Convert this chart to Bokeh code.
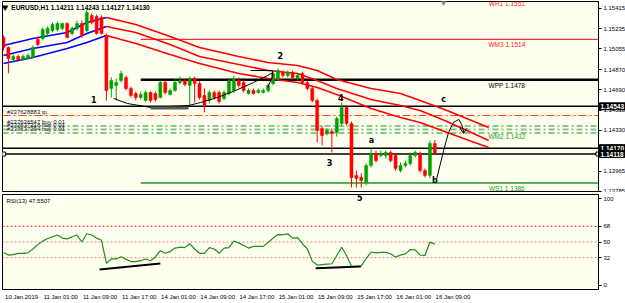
from bokeh.plotting import figure
from bokeh.models import ColumnDataSource, Range1d, FixedTicker, Label, PrintfTickFormatter
from bokeh.layouts import column
from bokeh.embed import file_html
from bokeh.resources import INLINE
from bokeh.core.properties import value

FONT = "Liberation Sans"
BG = "#FFFFF0"

# ---------------- data ----------------
bar_idx = list(range(89))
opens = [1.15156,1.15067,1.14960,1.14987,1.14960,1.14969,1.14978,1.15139,1.15147,1.15192,
         1.15219,1.15228,1.15237,1.15281,1.15192,1.15237,1.15281,1.15219,1.15352,1.15343,
         1.15335,1.15174,1.14702,1.14729,1.14773,1.14800,1.14702,1.14657,1.14622,1.14595,
         1.14666,1.14657,1.14622,1.14755,1.14648,1.14684,1.14755,1.14773,1.14729,1.14791,
         1.14746,1.14640,1.14595,1.14666,1.14666,1.14613,1.14657,1.14684,1.14773,1.14755,
         1.14657,1.14684,1.14666,1.14666,1.14684,1.14746,1.14791,1.14844,1.14818,1.14844,
         1.14791,1.14836,1.14755,1.14702,1.14595,1.14346,1.14301,1.14319,1.14310,1.14390,
         1.14533,1.14390,1.13927,1.13909,1.13864,1.14016,1.14123,1.14105,1.14105,1.14132,
         1.14105,1.13971,1.14016,1.14034,1.14105,1.14123,1.13971,1.13927,1.14211]
highs = [1.15174,1.15076,1.15005,1.15005,1.15005,1.15014,1.15085,1.15165,1.15245,1.15254,
         1.15290,1.15299,1.15290,1.15290,1.15254,1.15308,1.15308,1.15406,1.15370,1.15361,
         1.15352,1.15192,1.14800,1.14791,1.14862,1.14818,1.14720,1.14675,1.14675,1.14684,
         1.14675,1.14675,1.14773,1.14773,1.14702,1.14791,1.14809,1.14791,1.14809,1.14809,
         1.14764,1.14702,1.14684,1.14684,1.14684,1.14684,1.14791,1.14818,1.14800,1.14773,
         1.14702,1.14702,1.14702,1.14702,1.14746,1.14853,1.14880,1.14862,1.14862,1.14862,
         1.14836,1.14853,1.14773,1.14720,1.14613,1.14372,1.14346,1.14346,1.14452,1.14577,
         1.14550,1.14408,1.13971,1.13945,1.14034,1.14167,1.14149,1.14149,1.14149,1.14149,
         1.14123,1.14043,1.14060,1.14132,1.14149,1.14141,1.13989,1.14239,1.14243]
lows = [1.15040,1.14836,1.14934,1.14942,1.14951,1.14960,1.14969,1.15076,1.15130,1.15174,
        1.15201,1.15210,1.15219,1.15147,1.15174,1.15219,1.15156,1.15201,1.15272,1.15183,
        1.15183,1.14595,1.14622,1.14595,1.14755,1.14684,1.14622,1.14595,1.14604,1.14586,
        1.14577,1.14586,1.14613,1.14648,1.14640,1.14675,1.14738,1.14720,1.14550,1.14577,
        1.14604,1.14488,1.14568,1.14604,1.14568,1.14595,1.14640,1.14666,1.14711,1.14666,
        1.14648,1.14648,1.14657,1.14657,1.14666,1.14729,1.14773,1.14800,1.14800,1.14782,
        1.14773,1.14738,1.14684,1.14577,1.14221,1.14194,1.14283,1.14132,1.14274,1.14372,
        1.14372,1.13820,1.13820,1.13820,1.13838,1.13998,1.14043,1.14087,1.14078,1.14043,
        1.13971,1.13953,1.13998,1.14016,1.14087,1.13953,1.13909,1.13900,1.14127]
closes = [1.15067,1.14969,1.14987,1.14960,1.14987,1.14996,1.15067,1.15094,1.15228,1.15237,
          1.15272,1.15281,1.15281,1.15156,1.15237,1.15281,1.15174,1.15379,1.15290,1.15192,
          1.15192,1.14684,1.14773,1.14755,1.14836,1.14702,1.14640,1.14622,1.14648,1.14666,
          1.14595,1.14604,1.14755,1.14666,1.14684,1.14755,1.14773,1.14738,1.14791,1.14746,
          1.14622,1.14550,1.14666,1.14622,1.14586,1.14666,1.14773,1.14791,1.14729,1.14684,
          1.14684,1.14657,1.14684,1.14684,1.14729,1.14836,1.14862,1.14818,1.14844,1.14800,
          1.14818,1.14755,1.14702,1.14595,1.14328,1.14283,1.14328,1.14301,1.14435,1.14533,
          1.14390,1.13909,1.13900,1.13882,1.14016,1.14123,1.14060,1.14123,1.14132,1.14060,
          1.13989,1.14016,1.14034,1.14105,1.14132,1.13971,1.13927,1.14212,1.14130]

rsi_values = [38,35,35.5,37,37,37.5,42,47,51,54,
              56,58,54.5,53.5,56,58,50,59.5,58,54.5,
              52,25.5,30.5,30.5,33,30,27.5,27.5,28.5,30.5,
              28.5,33,40,37,39,43,44,43.5,48,42,
              37,37,43.5,42,37,43,43.5,51,49,46,
              43,45,45,45,49.5,54.5,58.5,58.3,59.4,54.5,
              55,48,42,28,23.5,24,24.5,25,34.5,44,
              34.5,22,22,22.5,31,38.5,37.5,38,38,36.5,
              32.6,35,36.4,41.4,41,35,34.5,49.8,47.55]

time_tick_idx = [0, 8, 16, 24, 32, 40, 48, 56, 64, 72, 80, 88]
time_tick_labels = ["10 Jan 2019", "11 Jan 01:00", "11 Jan 09:00", "11 Jan 17:00",
                    "14 Jan 01:00", "14 Jan 09:00", "14 Jan 17:00", "15 Jan 01:00",
                    "15 Jan 09:00", "15 Jan 17:00", "16 Jan 01:00", "16 Jan 09:00"]
price_ticks = [1.13785, 1.13965, 1.14150, 1.14330, 1.14510, 1.14690, 1.14870, 1.15055, 1.15235, 1.15415]
rsi_ticks = [0, 32, 50, 68, 100]
rsi_levels = [68, 50, 32]

ma_idx = [0, 6, 13, 17, 21, 27, 34, 40, 48, 54, 60, 64, 68, 75, 81, 85, 90, 95, 99]
ma_upper = [1.15085,1.15147,1.15201,1.15290,1.15335,1.15272,1.15165,1.15067,1.14987,1.14934,
            1.14907,1.14862,1.14782,1.14702,1.14657,1.14595,1.14515,1.14426,1.14354]
ma_mid = [1.14996,1.15058,1.15112,1.15192,1.15254,1.15201,1.15094,1.14987,1.14916,1.14862,
          1.14836,1.14773,1.14702,1.14604,1.14550,1.14506,1.14417,1.14319,1.14239]
ma_lower = [1.14925,1.14978,1.15058,1.15112,1.15174,1.15103,1.15005,1.14925,1.14836,1.14791,
            1.14755,1.14711,1.14648,1.14524,1.14444,1.14399,1.14319,1.14239,1.14176]
ma_turn = 4  # position in ma_idx where the bands turn from rising (blue) to falling (red)

pivot_names = ["WR1", "WM3", "WPP", "WM2", "WS1"]
pivot_values = [1.1551, 1.1514, 1.1478, 1.1432, 1.1386]
pivot_start_idx = 28

hline_prices = [1.14543, 1.14170, 1.14118]
tp_price = 1.14461
buy_prices = [1.14368, 1.14337, 1.14305]
order_labels = ["#237628883 tp", "#237636547 buy 0.01", "#237637218 buy 0.01", "#237637294 buy 0.01"]

wave_labels = ["1", "2", "3", "4", "a", "b", "c"]
wave_x = [18.4, 56.5, 66.5, 68.8, 75.1, 88.0, 89.8]
wave_y = [1.14604, 1.14996, 1.14043, 1.14622, 1.14239, 1.13882, 1.14604]

curve1_x = [22.45, 25.3, 30.0, 37.76, 40.2, 43.67, 47.35, 51.0, 53.9, 54.9]
curve1_y = [1.14613, 1.14568, 1.14533, 1.14550, 1.14577, 1.14622, 1.14684, 1.14755, 1.14818, 1.14844]
support_x = [30.0, 37.76]
support_y = [1.14528, 1.14528]
bracket_x = [50.4, 54.9, 54.9, 53.9]
bracket_y = [1.14862, 1.14862, 1.14809, 1.14711]
curve_bc_x = [88.4, 89.8, 90.8, 91.8, 92.9, 93.5, 93.9]
curve_bc_y = [1.13900, 1.14149, 1.14310, 1.14399, 1.14426, 1.14381, 1.14310]
arrow_x = [93.06, 93.88, 94.49]
arrow_y = [1.14354, 1.14301, 1.14346]

rsi_tl1_x = [19.6, 32.0]
rsi_tl1_y = [18.4, 25.3]
rsi_tl2_x = [63.7, 72.9]
rsi_tl2_y = [19.9, 21.8]

header = "EURUSD,H1  1.14211 1.14243 1.14127 1.14130"
rsi_header = "RSI(13) 47.5507"

# ---------------- main price pane ----------------
X_MIN, X_MAX = -0.2, 121.4
main = figure(frame_width=596, frame_height=190,
              x_range=Range1d(X_MIN, X_MAX), y_range=Range1d(1.13784, 1.15477),
              x_axis_location=None, y_axis_location="right",
              output_backend="svg", toolbar_location=None,
              min_border_left=2, min_border_top=1, min_border_bottom=1, min_border_right=0,
              background_fill_color=BG, border_fill_color="white")
main.grid.visible = False
main.outline_line_color = "black"

# horizontal user lines
for pr in hline_prices:
    main.segment(x0=[X_MIN], x1=[X_MAX + 5], y0=[pr], y1=[pr], line_color="black", line_width=1.5)

# pivot lines
piv_colors = {"WR1": "#FF0000", "WM3": "#FF0000", "WPP": "black", "WS1": "#1E9A1E"}
piv_widths = {"WR1": 1, "WM3": 1, "WPP": 2.5, "WS1": 1.5}
for n, v in zip(pivot_names, pivot_values):
    if n in piv_colors:
        main.segment(x0=[pivot_start_idx], x1=[X_MAX + 5], y0=[v], y1=[v],
                     line_color=piv_colors[n], line_width=piv_widths[n])

# order lines
main.segment(x0=[X_MIN], x1=[X_MAX + 5], y0=[tp_price], y1=[tp_price],
             line_color="#FF4500", line_width=1, line_dash="8 3 2 3")
for bp in buy_prices:
    main.segment(x0=[X_MIN], x1=[X_MAX + 5], y0=[bp], y1=[bp],
                 line_color="#86C886", line_width=2, line_dash="6 3 2 3")

# moving-average bands
for band in (ma_upper, ma_mid, ma_lower):
    main.line(ma_idx[:ma_turn + 1], band[:ma_turn + 1], line_color="#0000FF", line_width=1.6)
    main.line(ma_idx[ma_turn:], band[ma_turn:], line_color="#FF0000", line_width=1.6)

# candles
colors = ["#00A000" if c >= o else "#FF0000" for o, c in zip(opens, closes)]
tops = [max(o, c) for o, c in zip(opens, closes)]
bots = [min(o, c) for o, c in zip(opens, closes)]
bots = [b - 0.000012 if t - b < 0.000012 else b for t, b in zip(tops, bots)]
src = ColumnDataSource(dict(x=bar_idx, h=highs, l=lows, top=tops, bottom=bots, color=colors))
main.segment(x0="x", y0="l", x1="x", y1="h", line_color="color", line_width=1, source=src)
main.vbar(x="x", width=0.62, top="top", bottom="bottom", fill_color="color", line_color="color",
          line_width=0.5, source=src)

# drawings
main.line(curve1_x, curve1_y, line_color="black", line_width=1)
main.line(support_x, support_y, line_color="#5A5A5A", line_width=3)
main.line(bracket_x, bracket_y, line_color="black", line_width=1)
main.line(curve_bc_x, curve_bc_y, line_color="black", line_width=1)
main.line(arrow_x, arrow_y, line_color="black", line_width=1)

# pivot labels
piv_label_colors = {"WR1": "#FF2020", "WM3": "#FF2020", "WPP": "black", "WM2": "#20A020", "WS1": "#20A020"}
main.text(x=[102.7] * len(pivot_names), y=pivot_values,
          text=[f"{n} {v:.4f}" for n, v in zip(pivot_names, pivot_values)],
          text_color=[piv_label_colors[n] for n in pivot_names],
          text_font=value(FONT), text_font_size="6.5px", text_align="center",
          text_baseline="top", y_offset=2)

# order labels
main.text(x=[0.7] * 4, y=[tp_price] + buy_prices, text=order_labels,
          text_color="#101030", text_font=value(FONT), text_font_size="6px",
          text_align="left", text_baseline="bottom", y_offset=-1)

# wave labels
main.text(x=wave_x, y=wave_y, text=wave_labels, text_color="black",
          text_font=value("DejaVu Sans"), text_font_size="8px", text_font_style="bold",
          text_align="center", text_baseline="middle")

# header
main.scatter(x=[0.35], y=[1.15424], marker="inverted_triangle", size=5, color="black")
main.text(x=[1.6], y=[1.15424], text=[header], text_color="black", text_font=value(FONT),
          text_font_size="6.5px", text_font_style="bold", text_align="left", text_baseline="middle")
main.scatter(x=[89.8], y=[1.15468], marker="inverted_triangle", size=5, color="#909090")

# line-end squares
main.scatter(x=[0.0, X_MAX - 0.1], y=[hline_prices[2], hline_prices[2]], marker="square", size=4,
             fill_color="white", line_color="black")

ay = main.yaxis[0]
ay.ticker = FixedTicker(ticks=price_ticks)
ay.formatter = PrintfTickFormatter(format="%.5f")

# price labels of the lines, drawn over the price scale (side panel => not clipped to the frame)
label_extra = {}
if "padding" in Label.properties():
    label_extra["padding"] = 1
for pr in hline_prices:
    main.add_layout(Label(x=599, x_units="canvas", y=pr, y_units="data", text=f"{pr:.5f}",
                          text_baseline="middle", text_align="left", text_color="white",
                          text_font=FONT, text_font_size="6.5px", text_font_style="bold",
                          background_fill_color="black", border_line_color="black",
                          **label_extra), "right")

# ---------------- RSI pane ----------------
rsi = figure(frame_width=596, frame_height=95,
             x_range=main.x_range, y_range=Range1d(-4.6, 104.6),
             y_axis_location="right",
             output_backend="svg", toolbar_location=None,
             min_border_left=2, min_border_top=2, min_border_bottom=0, min_border_right=0,
             background_fill_color=BG, border_fill_color="white")
rsi.grid.visible = False
rsi.outline_line_color = "black"

lvl_colors = {68: "#FF2020", 50: "#F08080", 32: "#F08080"}
for lv in rsi_levels:
    rsi.segment(x0=[X_MIN], x1=[X_MAX + 5], y0=[lv], y1=[lv], line_color=lvl_colors[lv],
                line_width=1, line_dash="2 2")
rsi.line(bar_idx, rsi_values, line_color="#1E8C1E", line_width=1.2)
rsi.line(rsi_tl1_x, rsi_tl1_y, line_color="black", line_width=2)
rsi.line(rsi_tl2_x, rsi_tl2_y, line_color="black", line_width=2)
rsi.text(x=[72.7], y=[101], text=["5"], text_color="black", text_font=value("DejaVu Sans"),
         text_font_size="8px", text_font_style="bold", text_align="center", text_baseline="middle")
rsi.text(x=[0.6], y=[97.5], text=[rsi_header], text_color="black", text_font=value(FONT),
         text_font_size="6px", text_align="left", text_baseline="middle")

ry = rsi.yaxis[0]
ry.ticker = FixedTicker(ticks=rsi_ticks)

# time labels start at their bar (MT4 style): place each label half its width to the right
LABEL_SHIFT = 3.7
label_pos = [i + LABEL_SHIFT for i in time_tick_idx]
rx = rsi.xaxis[0]
rx.ticker = FixedTicker(ticks=label_pos)
rx.major_label_overrides = {p: t for p, t in zip(label_pos, time_tick_labels)}

for ax in (ay, ry, rx):
    ax.major_label_text_font = FONT
    ax.major_label_text_font_size = "6px"
    ax.major_label_text_color = "black"
    ax.major_tick_out = 3
    ax.major_tick_in = 0
    ax.minor_tick_out = 0
    ax.minor_tick_in = 0
    ax.axis_line_color = "black"
    ax.major_label_standoff = 2
rx.major_tick_out = 0
rx.major_label_standoff = 4

layout = column(main, rsi, spacing=0)
open("out.html", "w").write(file_html(layout, INLINE))
